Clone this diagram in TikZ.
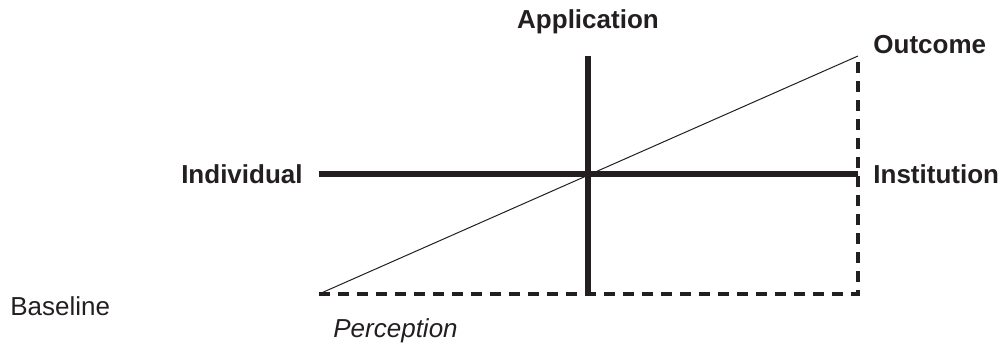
\documentclass[tikz,border=0pt]{standalone}
\usepackage{fontspec}
\setmainfont{Liberation Sans}
\usetikzlibrary{positioning}
\definecolor{ink}{HTML}{231F20}

\begin{document}
\begin{tikzpicture}[x=0.5pt,y=0.5pt,node distance=7.5pt and 8pt,color=ink,
axis/.style={line width=2.6pt},
frame/.style={line width=1.9pt,dash pattern=on 5.5pt off 4pt},
trend/.style={line width=0.5pt},
lbl/.style={font=\fontsize{13}{15.6}\selectfont\bfseries,inner sep=0pt},
note/.style={font=\fontsize{13}{15.6}\selectfont,inner sep=0pt}]
\useasboundingbox (0,0) rectangle (1003,345);
\coordinate (west) at (319,171);
\coordinate (east) at (858,171);
\coordinate (top) at (588,289);
\coordinate (bottom) at (588,51);
\coordinate (sw) at (319,51);
\coordinate (se) at (858,51);
\coordinate (ne) at (858,289);
\node[lbl,left=8pt of west] (indiv) {Individual};
\node[lbl,right=7.5pt of east] (inst) {Institution};
\node[lbl,anchor=base] (appl) at ([yshift=14pt]top) {Application};
\node[lbl,anchor=base west] (outc) at ([xshift=7.5pt,yshift=1.5pt]ne) {Outcome};
\node[note,anchor=base west] (base) at (10,30) {Baseline};
\node[note,anchor=base west,font=\fontsize{13}{15.6}\selectfont\itshape] (perc) at (333,8) {Perception};
\draw[trend] (sw)--(ne);
\draw[axis] (west)--(east);
\draw[axis] (bottom)--(top);
\draw[frame] (sw)--(se)--(ne);
\end{tikzpicture}
\end{document}
